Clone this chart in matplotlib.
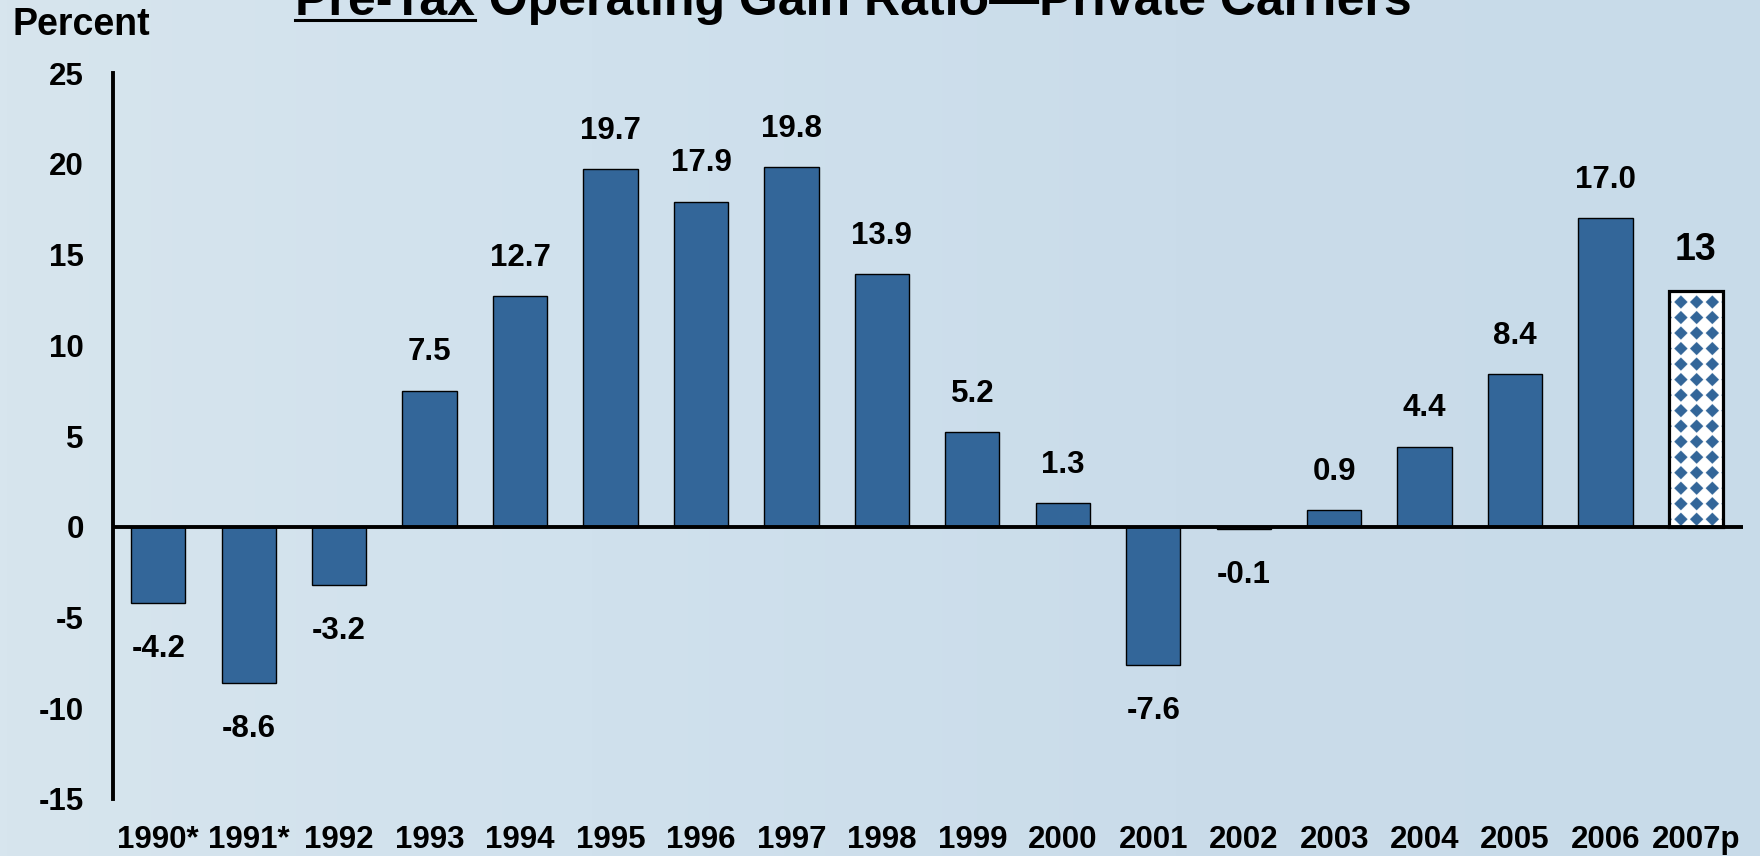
import numpy as np
import matplotlib.pyplot as plt
from matplotlib.colors import LinearSegmentedColormap
from matplotlib.lines import Line2D

plt.rcParams['font.family'] = ['Liberation Sans', 'DejaVu Sans']
plt.rcParams['font.weight'] = 'bold'

# Pre-tax operating gain ratio, private carriers (percent)
years = ['1990*', '1991*', '1992', '1993', '1994', '1995', '1996', '1997', '1998',
         '1999', '2000', '2001', '2002', '2003', '2004', '2005', '2006', '2007p']
ratio = [-4.2, -8.6, -3.2, 7.5, 12.7, 19.7, 17.9, 19.8, 13.9,
         5.2, 1.3, -7.6, -0.1, 0.9, 4.4, 8.4, 17.0, 13]
value_labels = ['-4.2', '-8.6', '-3.2', '7.5', '12.7', '19.7', '17.9', '19.8', '13.9',
                '5.2', '1.3', '-7.6', '-0.1', '0.9', '4.4', '8.4', '17.0', '13']
yticks = [-15, -10, -5, 0, 5, 10, 15, 20, 25]

bar_color = '#336699'
W, H = 1760, 856
fs = 22.5

fig = plt.figure(figsize=(W / 100, H / 100), dpi=100)

# soft blue backdrop
bg = fig.add_axes([0, 0, 1, 1], zorder=-10)
wash = LinearSegmentedColormap.from_list('wash', ['#d7e5ee', '#d0e1ed', '#cadcea', '#c8dbe9'])
bg.imshow(np.linspace(0, 1, 256)[None, :], cmap=wash, aspect='auto', extent=[0, 1, 0, 1])
bg.axis('off')

ax = fig.add_axes([113 / W, 57 / H, 1630 / W, 726 / H])
ax.set_facecolor('none')

x = np.arange(len(years))
bars = ax.bar(x[:-1], ratio[:-1], width=0.6, color=bar_color, edgecolor='black',
              linewidth=1.0, zorder=2)
proj = ax.bar(x[-1:], ratio[-1:], width=0.6, facecolor='none', edgecolor='black',
              linewidth=2.3, zorder=3)[0]

ax.set_xlim(-0.5, 17.52)
ax.set_ylim(-15, 25)

# diamond fill for the projected year
x0, bw = proj.get_x(), proj.get_width()
y0, bh = proj.get_y(), proj.get_height()
p0 = ax.transData.transform((x0, y0))
p1 = ax.transData.transform((x0 + bw, y0 + bh))
wpx, hpx = p1 - p0
ss = 4
u = (np.arange(int(wpx * ss)) + 0.5) / ss
v = (np.arange(int(hpx * ss)) + 0.5) / ss
U, V = np.meshgrid(u, v)
cell = 15.5
du = np.abs((U - 4) % cell - cell / 2)
dv = np.abs(V % cell - cell / 2)
diamond = (du + dv) < cell * 0.43
blue = np.array([51, 102, 153]) / 255
img = np.where(diamond[..., None], blue, np.ones(3))
im = ax.imshow(img, extent=[x0, x0 + bw, y0, y0 + bh], origin='lower',
               aspect='auto', zorder=2)
im.set_clip_path(proj)
ax.set_xlim(-0.5, 17.52)
ax.set_ylim(-15, 25)

for xi, val, lbl in zip(x, ratio, value_labels):
    size = 27 if lbl == '13' else fs
    if val >= 0:
        ax.annotate(lbl, (xi, val), xytext=(0, 22), textcoords='offset points',
                    ha='center', va='baseline', fontsize=size)
    else:
        ax.annotate(lbl, (xi, val), xytext=(0, -22.5), textcoords='offset points',
                    ha='center', va='top', fontsize=size)

ax.axhline(0, color='black', linewidth=2.8, zorder=4)

ax.set_xticks(x, years)
ax.set_yticks(yticks, [str(t) for t in yticks])
ax.tick_params(axis='x', length=0, pad=19, labelsize=fs)
ax.tick_params(axis='y', length=0, pad=21, labelsize=fs)
for side in ['top', 'right', 'bottom']:
    ax.spines[side].set_visible(False)
ax.spines['left'].set_linewidth(2.8)

fig.text(12 / W, 1 - 35 / H, 'Percent', fontsize=27, ha='left', va='baseline')

# title with underlined lead word
tx, ty = 295 / W, 1 - 15 / H
fig.text(tx, ty, 'Pre-Tax Operating Gain Ratio\u2014Private Carriers', fontsize=36,
         ha='left', va='baseline')
tmp = fig.text(tx, ty, 'Pre-Tax', fontsize=36, ha='left', va='baseline')
ext = tmp.get_window_extent(renderer=fig.canvas.get_renderer())
tmp.remove()
fig.add_artist(Line2D([ext.x0 / W, ext.x1 / W], [1 - 19.5 / H] * 2,
                      color='black', linewidth=2.2))

fig.savefig('out.png', dpi=100)
